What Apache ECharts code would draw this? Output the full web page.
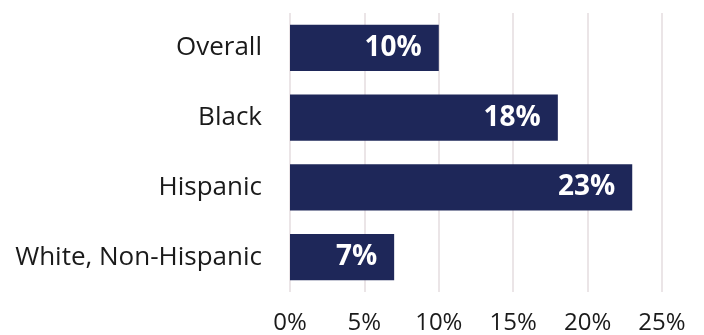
<!DOCTYPE html>
<html>
<head>
<meta charset="utf-8">
<script src="https://cdn.jsdelivr.net/npm/echarts@6/dist/echarts.min.js"></script>
<style>
	html, body { margin: 0; padding: 0; background: #fff; }
	#chart { width: 704px; height: 335px; }
</style>
</head>
<body>
<div id="chart"></div>
<script>
const categories = ['Overall', 'Black', 'Hispanic', 'White, Non-Hispanic']
const values = [10, 18, 23, 7]
const tickLabels = ['0%', '5%', '10%', '15%', '20%', '25%']

const chart = echarts.init(document.getElementById('chart'))
chart.setOption({
	textStyle: { fontFamily: 'Open Sans' },
	grid: {
		top: 13,
		bottom: 42,
		left: 290,
		right: 42,
	},
	xAxis: {
		type: 'value',
		min: 0,
		max: 25,
		interval: 5,
		axisLine: { show: false },
		axisTick: { show: false },
		splitLine: {
			lineStyle: { color: '#e4dcdf', width: 1.5 }
		},
		axisLabel: {
			margin: 19,
			fontSize: 24,
			color: '#1a1a1a',
			formatter: (v) => tickLabels[v / 5]
		}
	},
	yAxis: {
		type: 'category',
		inverse: true,
		data: categories,
		axisLine: { show: false },
		axisTick: { show: false },
		axisLabel: {
			margin: 28,
			fontSize: 26,
			color: '#1a1a1a'
		}
	},
	series: [
		{
			type: 'bar',
			data: values,
			barCategoryGap: '34%',
			itemStyle: { color: '#1e2759' },
			label: {
				show: true,
				position: 'insideRight',
				distance: 17,
				color: '#fff',
				fontWeight: 'bold',
				fontSize: 28,
				formatter: '{c}%'
			}
		}
	]
})
</script>
</body>
</html>
